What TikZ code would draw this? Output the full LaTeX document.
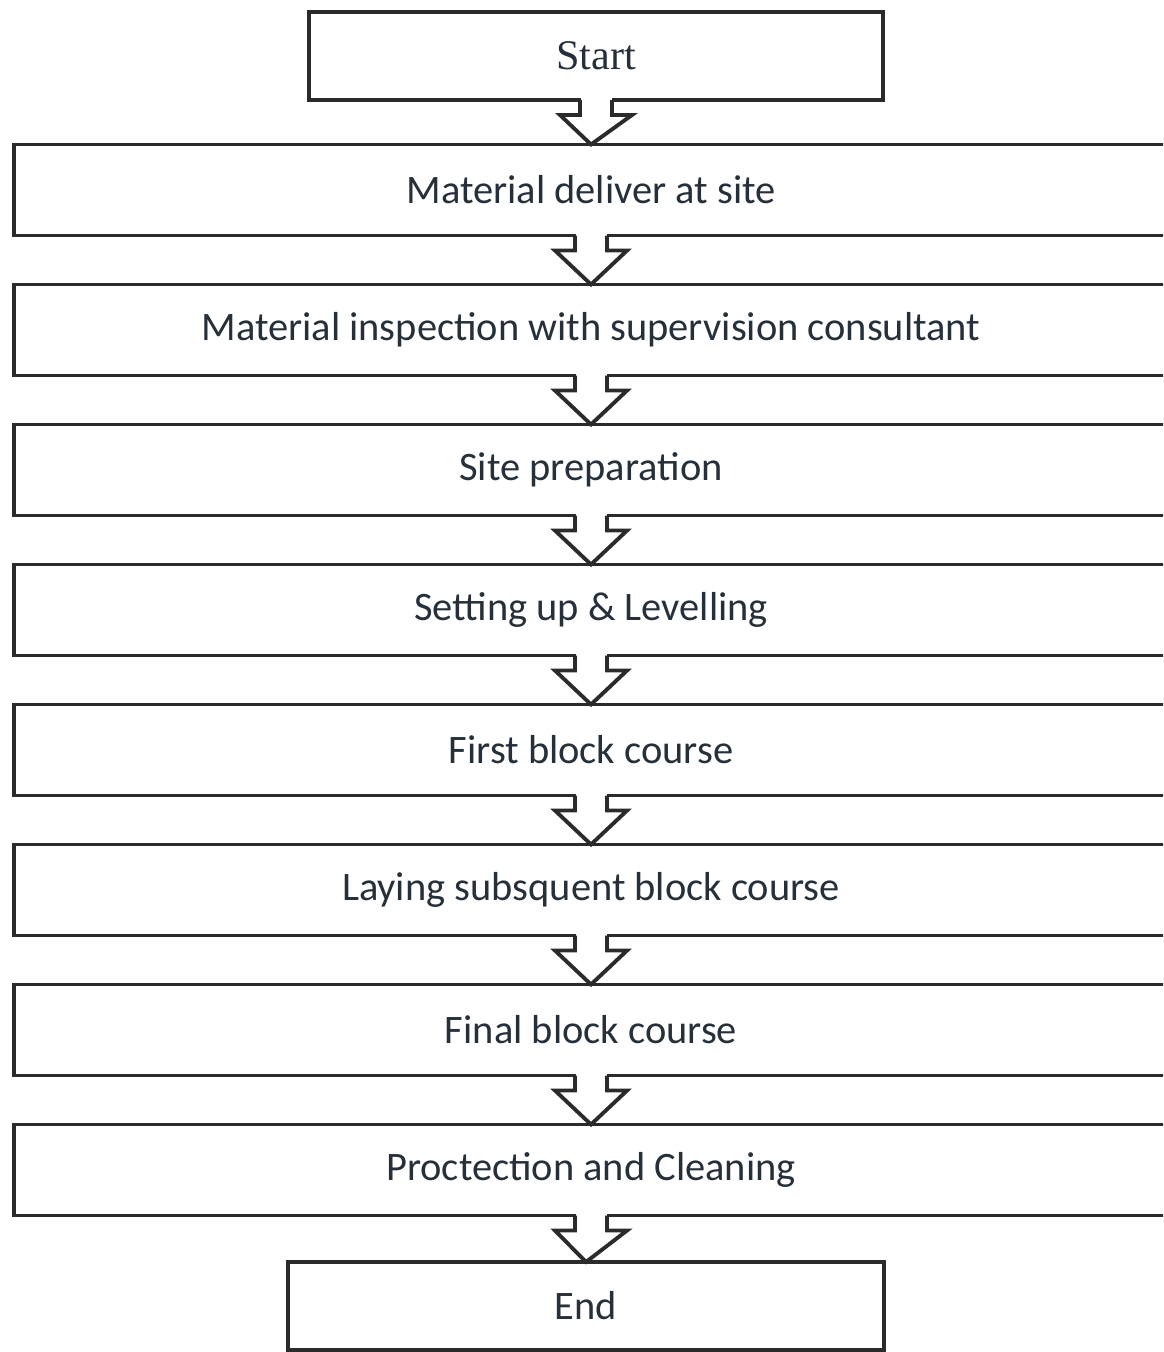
\documentclass[tikz,border=0pt]{standalone}
\usepackage{fontspec}
\setmainfont{Carlito}
\newfontfamily\startfont{Liberation Serif}
\usetikzlibrary{calc}
\definecolor{inkline}{HTML}{2B2B2B}
\definecolor{inktext}{HTML}{26303A}
\begin{document}
\begin{tikzpicture}[x=0.01cm,y=-0.01cm,
  boxbase/.style={draw=inkline, line width=1.1pt, rectangle, inner sep=0pt, outer sep=0pt,
    text=inktext, font=\fontsize{11.5}{13}\selectfont},
  widebox/.style={boxbase, minimum width=11.54cm, minimum height=0.91cm},
  endbox/.style={boxbase, minimum height=0.88cm},
  arrowline/.style={draw=inkline, line width=1.1pt, line join=miter}]
\useasboundingbox (0,0) rectangle (1163,1352);
\clip (0,0) rectangle (1163,1352);
\node[endbox, minimum width=5.74cm, font=\startfont\fontsize{12}{14}\selectfont] (start) at (596,56) {Start};
\node[widebox] (s1) at (591,190) {Material deliver at site};
\node[widebox] (s2) at (591,330) {Material inspection with supervision consultant};
\node[widebox] (s3) at (591,470) {Site preparation};
\node[widebox] (s4) at (591,610) {Setting up \& Levelling};
\node[widebox] (s5) at (591,750) {First block course};
\node[widebox] (s6) at (591,890) {Laying subsquent block course};
\node[widebox] (s7) at (591,1030) {Final block course};
\node[widebox] (s8) at (591,1170) {Proctection and Cleaning};
\node[endbox, minimum width=5.95cm] (end) at (586,1306) {End};
\foreach \a/\b in {start/s1,s1/s2,s2/s3,s3/s4,s4/s5,s5/s6,s6/s7,s7/s8,s8/end}{
  \fill[white] ($(\a.south)+(-15.5,-3)$) rectangle ($(\a.south)+(15.5,2)$);
  \draw[arrowline] ($(\a.south)+(-16,0)$) -- ++(0,15) -- ++(-20,0) -- (\b.north)
    -- ($(\a.south)+(36,15)$) -- ++(-20,0) -- ++(0,-15);
}
\end{tikzpicture}
\end{document}
